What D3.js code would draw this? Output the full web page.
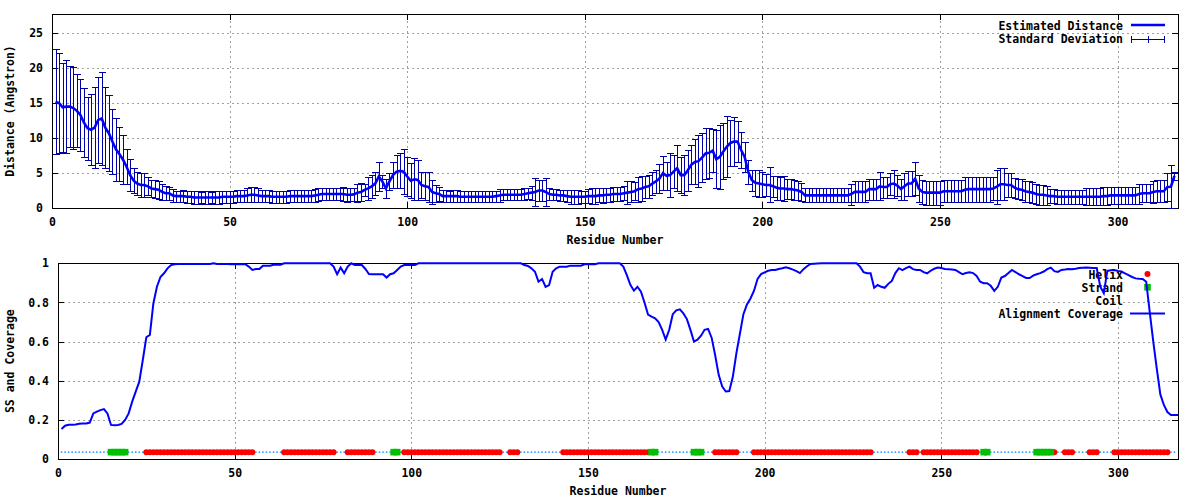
<!DOCTYPE html>
<html>
<head>
<meta charset="utf-8">
<script src="https://cdnjs.cloudflare.com/ajax/libs/d3/7.8.5/d3.min.js"></script>
<style>
  body { margin: 0; background: #fff; }
  text { font-family: "DejaVu Sans Mono", "Liberation Mono", monospace; font-weight: bold; font-size: 11.5px; }
</style>
</head>
<body>
<svg id="chart" width="1200" height="500"></svg>
<script>
'use strict';

// residue i+1 for every array below
var distance = [
  15.2,15.0,14.4,14.5,14.5,14.3,13.9,13.3,12.2,11.4,
  11.2,11.5,12.6,12.8,11.5,10.7,9.5,8.4,7.7,6.9,
  5.9,4.7,3.9,3.5,3.3,3.3,3.1,2.8,2.7,2.6,
  2.3,2.1,2.1,1.8,1.7,1.7,1.7,1.6,1.6,1.5,
  1.5,1.5,1.5,1.5,1.5,1.5,1.5,1.6,1.6,1.6,
  1.6,1.7,1.7,1.7,1.8,1.9,1.9,1.8,1.7,1.7,
  1.7,1.6,1.6,1.6,1.6,1.6,1.7,1.7,1.7,1.7,
  1.7,1.7,1.7,1.8,1.9,2.0,2.0,2.0,2.0,2.0,
  2.0,2.0,1.9,1.9,1.95,2.2,2.3,2.6,2.8,3.1,
  3.5,4.5,3.8,2.8,3.8,4.7,5.2,5.3,5.2,4.5,
  3.9,4.1,4.0,3.3,3.1,3.0,2.3,2.1,2.0,1.7,
  1.7,1.7,1.7,1.7,1.6,1.6,1.6,1.6,1.6,1.6,
  1.6,1.6,1.6,1.6,1.7,1.8,1.9,1.9,1.9,1.9,
  1.9,1.9,2.0,2.1,2.2,2.3,2.5,2.5,2.3,2.0,
  1.9,1.9,1.8,1.8,1.7,1.6,1.6,1.6,1.6,1.6,
  1.7,1.7,1.7,1.8,1.8,1.9,1.9,2.0,2.0,2.0,
  2.1,2.2,2.3,2.4,2.7,2.8,3.0,3.1,3.5,3.8,
  4.2,5.0,4.6,4.7,5.2,5.7,4.7,4.7,5.4,6.2,
  6.6,6.7,7.2,7.8,7.9,8.2,7.0,7.3,8.1,8.8,
  9.3,9.5,9.5,8.3,7.3,5.2,4.0,3.6,3.5,3.4,
  3.3,3.3,3.1,2.9,2.8,2.8,2.7,2.7,2.6,2.5,
  2.3,1.8,1.8,1.8,1.8,1.8,1.8,1.8,1.8,1.8,
  1.8,1.8,1.8,1.8,2.0,2.3,2.3,2.3,2.3,2.7,
  2.7,2.7,3.1,3.0,3.0,3.4,3.5,3.2,2.7,3.1,
  3.5,3.5,4.2,2.8,2.3,2.2,2.2,2.2,2.2,2.2,
  2.4,2.4,2.4,2.4,2.4,2.4,2.6,2.7,2.7,2.7,
  2.7,2.7,2.7,2.7,2.8,3.05,3.4,3.4,3.3,3.3,
  2.9,2.7,2.6,2.4,2.3,2.2,2.0,1.9,1.9,1.8,
  1.7,1.7,1.6,1.6,1.6,1.6,1.6,1.6,1.6,1.6,
  1.6,1.6,1.6,1.6,1.6,1.7,1.7,1.8,1.8,1.8,
  1.8,1.8,1.8,1.8,1.8,2.0,2.1,2.1,2.1,2.3,
  2.4,2.4,2.4,3.0,3.05,4.6
];

var stdDev = [
  7.5,7.1,6.4,6.6,5.8,5.8,5.2,5.2,4.9,4.5,
  5.1,5.8,6.1,6.6,5.8,5.4,4.7,4.5,3.9,3.5,
  2.5,2.3,1.8,1.6,1.7,1.7,1.3,1.2,1.3,1.3,
  1.1,1.0,0.9,0.9,0.8,0.8,0.9,0.9,0.9,0.9,
  0.9,0.8,0.9,0.9,0.8,0.9,0.9,0.9,0.9,0.9,
  0.9,0.9,0.9,0.9,1.0,1.1,1.1,1.0,0.9,0.9,
  0.9,0.9,0.9,0.9,0.9,0.9,0.9,0.9,0.9,0.9,
  0.9,0.9,0.9,0.9,0.9,0.8,0.8,0.8,0.9,0.9,
  0.9,1.0,1.0,0.9,0.9,1.3,1.3,0.9,1.7,1.6,
  1.7,2.1,0.9,1.4,1.2,1.9,2.4,2.5,3.2,2.8,
  2.5,3.0,2.9,1.9,2.0,2.1,1.7,1.2,1.0,0.9,
  0.9,0.8,0.9,0.9,0.8,0.8,0.8,0.8,0.8,0.8,
  0.8,0.8,0.8,0.8,0.8,0.9,0.8,0.8,0.8,0.8,
  0.8,0.8,0.8,0.8,1.0,2.0,1.5,1.5,2.0,0.8,
  0.8,0.8,0.8,0.8,0.9,1.0,1.0,1.0,0.9,0.9,
  1.0,1.1,1.1,1.0,1.1,1.0,1.0,1.0,1.0,1.0,
  1.0,1.6,1.5,1.3,1.8,1.8,1.6,1.6,1.7,1.6,
  2.1,2.4,2.0,3.1,2.4,3.3,2.6,2.9,2.9,2.8,
  3.2,3.7,3.5,3.6,3.6,3.1,4.1,4.6,4.0,4.3,
  3.3,3.5,2.9,2.6,2.2,1.7,1.5,1.9,1.9,1.8,
  1.6,2.5,1.5,1.7,1.7,1.8,1.4,1.4,1.4,1.4,
  1.3,1.0,1.0,1.0,1.0,1.0,1.0,1.0,1.0,1.0,
  1.0,1.0,1.0,1.0,1.5,1.5,1.5,1.5,1.5,1.5,
  1.5,1.5,2.0,1.5,1.5,1.6,2.0,1.5,1.5,1.9,
  1.8,1.8,2.4,1.9,1.7,1.7,1.7,1.7,1.7,1.7,
  1.6,1.6,1.6,1.6,1.6,1.6,1.8,1.8,1.8,1.8,
  1.8,1.8,1.8,1.8,1.7,2.45,2.3,2.3,1.7,1.7,
  1.4,1.4,1.5,1.5,1.5,1.5,1.4,1.4,1.4,1.4,
  1.0,1.0,1.0,1.0,1.0,1.0,1.0,1.0,1.0,1.0,
  1.2,1.2,1.2,1.2,1.2,1.3,1.3,1.2,1.2,1.2,
  1.2,1.2,1.2,1.2,1.2,1.4,1.3,1.3,1.3,1.6,
  1.6,1.6,1.6,2.0,3.15,0.6
];

var coverage = [
  .153,.17,.175,.175,.176,.18,.182,.182,.186,.233,
  .242,.25,.255,.233,.174,.172,.174,.179,.2,.233,
  .293,.344,.395,.506,.622,.634,.796,.88,.93,.949,
  .974,.991,.995,.997,.997,.997,.997,.997,.997,.997,
  .997,.997,.997,1,.997,.997,.997,.997,.995,.995,
  .995,.995,.995,.983,.966,.971,.971,.988,.988,.988,
  .993,.993,.993,1,1,1,1,1,1,1,
  1,1,1,1,1,1,1,.983,.944,.978,
  .949,.983,1,.991,.991,.991,.971,.945,.944,.944,
  .944,.944,.927,.944,.949,.966,.983,.991,.991,.991,
  .991,1,1,1,1,1,1,1,1,1,
  1,1,1,1,1,1,1,1,1,1,
  1,1,1,1,1,1,1,1,1,1,
  1,.991,.986,.974,.957,.906,.92,.88,.889,.957,
  .974,.983,.983,.983,.988,.988,.988,.988,.995,.995,
  .995,.995,1,1,1,1,1,1,1,.983,
  .94,.89,.86,.88,.855,.8,.738,.727,.719,.7,
  .66,.61,.66,.74,.76,.765,.744,.715,.66,.6,
  .61,.63,.66,.665,.62,.53,.43,.37,.345,.347,
  .42,.54,.64,.74,.79,.82,.86,.92,.945,.954,
  .962,.966,.966,.971,.975,.98,.975,.968,.96,.95,
  .97,.985,.997,.998,.999,1,1,1,1,1,
  1,1,1,1,1,1,.983,.955,.949,.949,
  .875,.889,.88,.875,.895,.91,.95,.975,.965,.975,
  .983,.97,.966,.966,.955,.949,.962,.972,.978,.976,
  .971,.97,.968,.966,.955,.944,.95,.954,.95,.935,
  .906,.898,.898,.885,.859,.88,.927,.935,.95,.966,
  .955,.944,.935,.925,.925,.937,.944,.95,.958,.97,
  .978,.96,.956,.966,.968,.971,.97,.972,.976,.977,
  .978,.977,.976,.976,.88,.847,.961,.965,.966,.961,
  .958,.949,.94,.93,.923,.921,.92,.906,.75,.6,
  .46,.33,.276,.24,.225,.225,.225
];

// secondary structure, inclusive residue ranges
var helixRanges = [[25,55],[64,78],[82,89],[98,125],[128,130],[143,167],[186,192],
  [197,230],[241,243],[245,260],[282,282],[285,287],[292,294],[299,314]];
var strandRanges = [[15,19],[95,96],[168,169],[180,182],[262,263],[277,281]];
var ssLevel = 0.035;
var lastResidue = 316;

var residueTicks = [0, 50, 100, 150, 200, 250, 300];
var distanceTicks = [0, 5, 10, 15, 20, 25];
var coverageTicks = [0, 0.2, 0.4, 0.6, 0.8, 1];

function expand(ranges) {
  var out = [];
  ranges.forEach(function (r) { for (var i = r[0]; i <= r[1]; i++) out.push(i); });
  return out;
}
var helixRes = expand(helixRanges), strandRes = expand(strandRanges);
var coilRes = d3.range(1, lastResidue + 1).filter(function (r) {
  return helixRes.indexOf(r) < 0 && strandRes.indexOf(r) < 0;
});

var svg = d3.select('#chart');

var xTop = d3.scaleLinear().domain([0, 317]).range([52, 1178]);
var yTop = d3.scaleLinear().domain([0, 27.75]).range([208, 14]);
var xBot = d3.scaleLinear().domain([0, 317]).range([58, 1178]);
var yBot = d3.scaleLinear().domain([0, 1]).range([459, 263.3]);

function drawPanel(x, y, yTicks, yFmt, yLabel) {
  var g = svg.append('g');
  var x0 = x.range()[0], x1 = x.range()[1], yb = y.range()[0], yt = y.range()[1];

  var grid = g.append('g').attr('stroke', '#a0a0a0').attr('stroke-dasharray', '2,3')
    .attr('shape-rendering', 'crispEdges');
  grid.selectAll('.gx').data(residueTicks.filter(function (d) { return d > 0; })).join('line')
    .attr('class', 'gx')
    .attr('x1', function (d) { return Math.round(x(d)) + 0.5; })
    .attr('x2', function (d) { return Math.round(x(d)) + 0.5; })
    .attr('y1', yb).attr('y2', yt);
  grid.selectAll('.gy').data(yTicks.filter(function (d) { return d > 0 && d < y.domain()[1]; })).join('line')
    .attr('class', 'gy')
    .attr('x1', x0).attr('x2', x1)
    .attr('y1', function (d) { return Math.round(y(d)) + 0.5; })
    .attr('y2', function (d) { return Math.round(y(d)) + 0.5; });

  function tidy(sel) {
    sel.select('.domain').remove();
    sel.attr('font-size', null).attr('font-family', null);
    sel.selectAll('line').attr('shape-rendering', 'crispEdges');
  }
  g.append('g').attr('transform', 'translate(0,' + yb + ')')
    .call(d3.axisBottom(x).tickValues(residueTicks).tickSize(-6).tickPadding(10).tickFormat(d3.format('d')))
    .call(tidy);
  g.append('g').attr('transform', 'translate(0,' + yt + ')')
    .call(d3.axisTop(x).tickValues(residueTicks).tickSize(-6).tickFormat(''))
    .call(tidy);
  g.append('g').attr('transform', 'translate(' + x0 + ',0)')
    .call(d3.axisLeft(y).tickValues(yTicks).tickSize(-6).tickPadding(9).tickFormat(yFmt))
    .call(tidy);
  g.append('g').attr('transform', 'translate(' + x1 + ',0)')
    .call(d3.axisRight(y).tickValues(yTicks).tickSize(-6).tickFormat(''))
    .call(tidy);

  g.append('rect').attr('x', x0 + 0.5).attr('y', Math.round(yt) + 0.5)
    .attr('width', x1 - x0).attr('height', Math.round(yb) - Math.round(yt))
    .attr('fill', 'none').attr('stroke', '#000').attr('shape-rendering', 'crispEdges');

  g.append('text').attr('x', (x0 + x1) / 2).attr('y', yb + 36).attr('text-anchor', 'middle')
    .text('Residue Number');
  g.append('text').attr('text-anchor', 'middle')
    .attr('transform', 'translate(14,' + ((yb + yt) / 2) + ') rotate(-90)')
    .text(yLabel);
  return g;
}

// ---------- upper panel: distance ----------
var distPanel = drawPanel(xTop, yTop, distanceTicks, d3.format('d'), 'Distance (Angstron)');
var barColor = '#0000a8', cap = 3.3;
var distRows = distance.map(function (d, i) { return { r: i + 1, d: d, s: stdDev[i] }; });

var bars = distPanel.append('g').attr('stroke', barColor).attr('stroke-width', 1).attr('shape-rendering', 'crispEdges');
distRows.forEach(function (p) {
  var px = Math.round(xTop(p.r)) + 0.5;
  var hi = yTop(p.d + p.s), lo = yTop(Math.max(0, p.d - p.s));
  bars.append('line').attr('x1', px).attr('x2', px).attr('y1', hi).attr('y2', lo);
  bars.append('line').attr('x1', px - cap).attr('x2', px + cap).attr('y1', Math.round(hi) + 0.5).attr('y2', Math.round(hi) + 0.5);
  bars.append('line').attr('x1', px - cap).attr('x2', px + cap).attr('y1', Math.round(lo) + 0.5).attr('y2', Math.round(lo) + 0.5);
});

distPanel.append('path').datum(distRows)
  .attr('fill', 'none').attr('stroke', '#0000ff').attr('stroke-width', 2.6)
  .attr('d', d3.line().x(function (p) { return xTop(p.r); }).y(function (p) { return yTop(p.d); }));

// upper legend
distPanel.append('text').attr('x', 1123).attr('y', 30).attr('text-anchor', 'end').text('Estimated Distance');
distPanel.append('line').attr('x1', 1131).attr('x2', 1165).attr('y1', 25).attr('y2', 25)
  .attr('stroke', '#0000ff').attr('stroke-width', 2.6);
distPanel.append('text').attr('x', 1123).attr('y', 43).attr('text-anchor', 'end').text('Standard Deviation');
var lg = distPanel.append('g').attr('stroke', barColor).attr('shape-rendering', 'crispEdges');
lg.append('line').attr('x1', 1131).attr('x2', 1165).attr('y1', 39.5).attr('y2', 39.5);
[1131.5, 1148.5, 1164.5].forEach(function (lx) {
  lg.append('line').attr('x1', lx).attr('x2', lx).attr('y1', 36).attr('y2', 43);
});

// ---------- lower panel: SS and coverage ----------
var covPanel = drawPanel(xBot, yBot, coverageTicks, function (d) { return String(+d.toFixed(1)); }, 'SS and Coverage');

covPanel.append('g').attr('fill', '#1e90ff').selectAll('rect').data(coilRes).join('rect')
  .attr('x', function (r) { return xBot(r) - 0.75; }).attr('y', yBot(ssLevel) - 0.75)
  .attr('width', 1.5).attr('height', 1.5);
covPanel.append('g').attr('fill', '#ff0000').selectAll('circle').data(helixRes).join('circle')
  .attr('cx', function (r) { return xBot(r); }).attr('cy', yBot(ssLevel)).attr('r', 3);
covPanel.append('g').attr('fill', '#00c000').selectAll('rect').data(strandRes).join('rect')
  .attr('x', function (r) { return xBot(r) - 3.3; }).attr('y', yBot(ssLevel) - 3.3)
  .attr('width', 6.6).attr('height', 6.6);

// lower legend
var legendRows = ['Helix', 'Strand', 'Coil', 'Alignment Coverage'];
legendRows.forEach(function (t, i) {
  covPanel.append('text').attr('x', 1123).attr('y', 278.5 + i * 13.1).attr('text-anchor', 'end').text(t);
});
covPanel.append('circle').attr('cx', 1147.5).attr('cy', 274).attr('r', 3).attr('fill', '#ff0000');
covPanel.append('rect').attr('x', 1144.2).attr('y', 284).attr('width', 6.6).attr('height', 6.6).attr('fill', '#00c000');
covPanel.append('rect').attr('x', 1147).attr('y', 300.5).attr('width', 1.5).attr('height', 1.5).attr('fill', '#1e90ff');
covPanel.append('line').attr('x1', 1130).attr('x2', 1165).attr('y1', 313.5).attr('y2', 313.5)
  .attr('stroke', '#0000ff').attr('stroke-width', 2);

covPanel.append('path').datum(coverage)
  .attr('fill', 'none').attr('stroke', '#0000ff').attr('stroke-width', 2)
  .attr('d', d3.line().x(function (c, i) { return xBot(i + 1); }).y(function (c) { return yBot(c); }));
</script>
</body>
</html>
